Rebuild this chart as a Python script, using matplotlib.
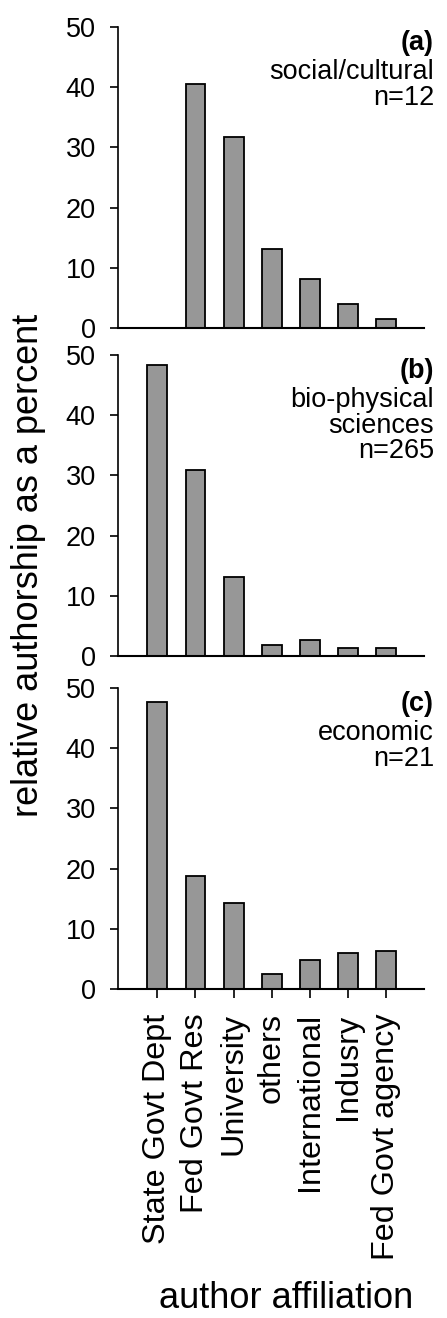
import numpy as np
import matplotlib.pyplot as plt

plt.rcParams['font.family'] = ['Liberation Sans', 'DejaVu Sans']

# author affiliation categories and relative authorship (%) per panel
categories = ["State Govt Dept", "Fed Govt Res", "University", "others",
              "International", "Indusry", "Fed Govt agency"]
social = [0.0, 40.5, 31.7, 13.2, 8.2, 4.0, 1.5]
biophys = [48.3, 30.9, 13.1, 1.9, 2.7, 1.4, 1.3]
economic = [47.7, 18.8, 14.3, 2.5, 4.8, 6.0, 6.3]

panel_tags = ["(a)", "(b)", "(c)"]
panel_names = ["social/cultural\nn=12",
               "bio-physical\nsciences\nn=265",
               "economic\nn=21"]
series = [social, biophys, economic]

fig = plt.figure(figsize=(4.47, 13.18), dpi=100)

W, H = 447.0, 1318.0
left, right = 118, 424
tops = [27, 355, 688]     # pixel rows of the 50 line
bottoms = [328, 656, 989] # pixel rows of the 0 line

x = np.arange(len(categories))
for i in range(3):
    ax = fig.add_axes([left / W, 1 - bottoms[i] / H,
                       (right - left) / W, (bottoms[i] - tops[i]) / H])
    ax.bar(x, series[i], width=0.52, color='#979797', edgecolor='black',
           linewidth=1.3)
    ax.set_xlim(-1.03, 6.99)
    ax.set_ylim(0, 50)
    ax.set_yticks([0, 10, 20, 30, 40, 50])
    ax.spines['top'].set_visible(False)
    ax.spines['right'].set_visible(False)
    ax.spines['left'].set_linewidth(1.2)
    ax.spines['bottom'].set_linewidth(1.5)
    ax.tick_params(axis='y', direction='out', length=6, width=1.2,
                   labelsize=19.5, pad=10)
    if i < 2:
        ax.set_xticks([])
    else:
        ax.set_xticks(x)
        ax.set_xticklabels(categories, rotation=90, fontsize=23.3)
        ax.tick_params(axis='x', direction='out', length=6.5, width=1.2,
                       pad=11)

    xr = (434 - left) / (right - left)
    ax.text(xr, 0.99, panel_tags[i], transform=ax.transAxes, ha='right',
            va='top', fontsize=19.5, fontweight='bold')
    ax.annotate(panel_names[i], xy=(xr, 0.99), xycoords='axes fraction',
                xytext=(0, -21), textcoords='offset points', ha='right',
                va='top', fontsize=19.5, linespacing=0.98)

fig.text(29 / W, 1 - 565 / H, "relative authorship as a percent",
         rotation=90, ha='center', va='center', fontsize=26)
fig.text(286 / W, 2 / H, "author affiliation", ha='center',
         va='bottom', fontsize=26)

fig.savefig("out.png", dpi=100)
